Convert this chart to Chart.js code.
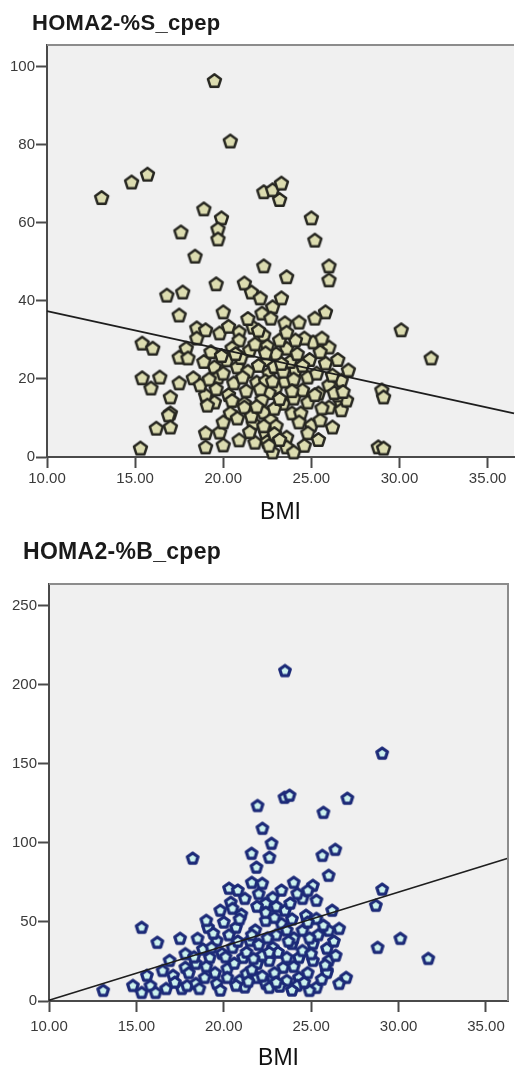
<!DOCTYPE html>
<html><head><meta charset="utf-8">
<script src="https://cdn.jsdelivr.net/npm/chart.js@4.4.1/dist/chart.umd.min.js"></script>
<style>
html,body{margin:0;padding:0;background:#fff;width:516px;height:1072px;overflow:hidden;position:relative}
.ttl{position:absolute;z-index:2;font-family:'Liberation Sans',Arial,sans-serif;font-weight:bold;color:#1a1a1a;line-height:1;white-space:nowrap}
.wrap{position:absolute;left:0}
</style></head><body>
<div class="ttl" style="left:32px;top:12px;font-size:22px;letter-spacing:0.3px">HOMA2-%S_cpep</div>
<div class="wrap" style="top:0;width:522px;height:530px"><canvas id="c1" width="522" height="530"></canvas></div>
<div class="ttl" style="left:23px;top:540px;font-size:23px;letter-spacing:0.3px">HOMA2-%B_cpep</div>
<div class="wrap" style="top:520px;width:516px;height:552px"><canvas id="c2" width="516" height="552"></canvas></div>
<script>
// ---------- data ----------
const xTitle = 'BMI';
const xTicks = [10, 15, 20, 25, 30, 35];
const xTickLabels = ['10.00', '15.00', '20.00', '25.00', '30.00', '35.00'];
const yTicksS = [0, 20, 40, 60, 80, 100];
const yTicksB = [0, 50, 100, 150, 200, 250];

const bmiS = [19.5,20.4,13.1,14.8,15.7,22.3,22.8,23.3,23.2,18.9,19.9,19.7,19.7,17.6,18.4,25.0,25.2,22.3,26.0,26.0,
  23.6,19.6,16.8,17.7,21.2,21.6,22.1,23.3,22.8,17.5,20.0,25.8,25.2,22.2,22.7,23.5,24.3,21.7,20.9,22.3,
  19.8,18.5,19.0,18.5,15.4,16.0,17.9,17.5,18.0,23.6,25.1,26.0,25.8,21.5,20.9,15.4,16.4,15.9,17.5,18.3,
  17.0,17.0,19.5,20.2,20.8,19.7,20.6,19.1,19.5,21.2,21.9,22.6,23.0,24.1,24.8,24.5,26.0,26.7,27.1,23.4,
  24.8,26.0,26.7,23.9,15.3,16.9,16.2,17.0,19.0,19.1,19.0,19.8,19.0,20.0,20.4,20.8,21.2,20.9,21.8,21.7,
  22.3,22.7,22.4,22.8,23.6,23.6,24.0,24.0,24.4,25.0,24.8,25.5,26.2,25.6,26.7,27.0,26.5,25.4,29.0,29.1,
  28.8,29.1,30.1,31.8,22.5,22.9,23.0,22.4,22.6,22.2,22.9,23.2,21.4,21.0,20.5,23.8,24.2,23.5,24.0,21.3,
  20.3,25.3,26.3,24.6,23.2,21.8,19.3,22.5,24.9,23.4,22.0,20.0,21.6,23.0,22.5,20.5,25.5,18.7,26.5,24.3,
  22.6,22.9,23.2,22.3,21.9,22.1,22.8,23.3,21.1,20.7,19.9,24.5,25.2,26.2,25.6,24.1,23.6,22.0,20.3,21.4,
  19.2,18.9,20.0,24.6,25.4,21.5,19.6,26.8,23.9,22.4];
const homaS = [96.5,81,66.5,70.5,72.5,68,68.5,70.2,66,63.6,61.3,58.5,55.9,57.7,51.5,61.3,55.6,49,49,45.4,
  46.2,44.4,41.5,42.3,44.6,42.3,40.8,40.8,38.5,36.4,37.2,37.2,35.6,36.9,35.6,34.4,34.6,33.3,32.1,31.3,
  31.8,33.1,32.6,30.5,29.2,27.9,27.9,25.6,25.4,27.9,29.5,28.2,24.1,27.4,30,20.3,20.5,17.7,19.0,20.3,
  15.4,11.3,23.1,24.9,23.1,20.5,19.0,14.6,14.1,13.8,19.2,21.5,17.9,22.3,20.5,17.2,18.5,19.7,22.3,13.8,
  14.1,12.8,13.8,11.3,2.3,10.8,7.4,7.7,15.9,13.3,6.2,6.4,2.6,3.1,11.3,10,12.8,4.4,3.8,8.7,
  11.5,9.5,6.2,1.3,5.1,2.6,1.3,15.1,11.3,8.2,6.2,9.5,7.7,12.6,12.1,14.6,15.9,16.4,17.2,15.4,
  2.6,2.3,32.6,25.4,25,23.2,26.5,19.5,16.5,14.8,12.5,15,22,25.5,28,24.5,26.5,19.5,20,17,
  16,21.5,16.5,30.5,30,29,27,28.5,25,22,23.5,21.5,10.5,8.0,4.0,14.5,27,18.5,25,9.0,
  3,6,4.5,8,13,17.5,19.5,24,20.5,26.5,26,23.5,16,21,30.5,30,32,32.5,33.5,35.5,
  20,24.5,9,3,4.5,6.5,17.5,16.8,17,26.7];

const bmiB = [23.5,29.06,21.93,23.47,23.76,27.07,25.70,22.21,22.73,21.59,22.61,25.64,26.38,18.22,21.87,29.06,28.7,30.1,28.8,31.7,
  26.0,20.3,20.8,21.6,22.2,23.3,24.0,25.1,22.8,24.5,25.3,20.4,20.5,19.8,22.4,23.5,26.2,15.3,16.2,17.5,
  18.5,19.1,19.0,20.7,22.4,23.3,24.5,26.0,26.6,21.5,19.6,22.8,23.9,25.1,25.9,16.9,17.8,18.4,19.2,20.2,
  21.1,21.9,22.6,23.4,24.3,25.1,26.0,25.9,27.0,26.6,25.3,24.9,13.1,14.8,15.3,15.8,16.1,16.7,17.6,17.9,
  18.4,17.1,16.5,15.6,19.6,20.2,20.9,21.9,22.4,22.8,23.6,24.3,22.6,21.3,19.9,23.6,24.7,25.3,24.2,22.4,
  25.9,21.0,21.2,23.0,23.8,24.8,20.0,21.8,23.0,24.0,20.5,21.3,22.2,23.1,24.5,18.8,17.8,19.5,20.6,21.6,
  22.9,24.0,24.8,25.6,23.2,21.2,18.9,24.2,22.0,25.4,26.3,22.9,20.3,18.0,19.0,
  19.3,20.8,21.6,22.5,23.6,24.8,25.7,20.9,21.9,22.0,23.9,19.4,18.3,17.2,18.6,19.8,20.7,21.4,22.2,23.0,
  23.9,24.6,25.8,25.0,26.4,20.1,21.7,22.6,23.7,24.9];
const homaB = [209,156.8,123.7,128.9,130.2,128.3,119.4,109.3,99.8,93.5,91.0,92.2,96.0,90.4,84.7,70.8,60.6,39.7,34.0,27.0,
  79.6,71.4,70.2,75.1,74.5,70.2,75.1,73.2,65.6,65.0,63.8,62.5,58.7,57.5,61.9,57.5,57.5,46.7,37.2,39.7,
  39.7,46.7,51.1,46.7,51.1,49.2,44.8,44.8,46.0,38.4,38.4,34.0,36.5,36.5,33.4,25.8,21.4,23.9,27.7,20.7,
  27.7,23.9,25.8,21.4,27.7,25.8,25.8,19.4,15.0,11.2,8.7,6.8,6.8,9.9,5.5,9.9,5.5,8.0,8.0,9.9,
  11.2,16.3,19.4,16.3,11.2,15.0,13.1,15.0,11.2,14.4,13.1,15.0,8.7,17.5,30.2,27.7,54.3,52.3,68.1,56.2,
  18.2,55,65,60,62,70,50,45,42,40,34,31,29,31,32,33,30,18,24,20,
  18,22,18,14,9.5,9,15,10,36,42,38,53,42,18,22,
  34,38,42,40,45,50,48,52,60,68,52,43,28,12,8,7,10,12.5,16,12,
  7,12,23,30,29,28,27,31,38,40];

// regression lines
const fitS_x = [10, 36.5];
const fitS_y = [37.4, 11.2];
const fitB_x = [10, 36.26];
const fitB_y = [0.5, 90.3];

// ---------- helpers ----------
function pentagon(r, fill, stroke, lw) {
  const s = Math.ceil(2 * (r + lw)) + 2;
  const c = document.createElement('canvas');
  c.width = s; c.height = s;
  const g = c.getContext('2d');
  g.translate(s / 2, s / 2 + r * 0.095);
  g.beginPath();
  for (let k = 0; k < 5; k++) {
    const a = -Math.PI / 2 + k * 2 * Math.PI / 5;
    const px = r * Math.cos(a), py = r * Math.sin(a);
    if (k === 0) g.moveTo(px, py); else g.lineTo(px, py);
  }
  g.closePath();
  g.fillStyle = fill; g.fill();
  g.lineWidth = lw; g.lineJoin = 'round'; g.strokeStyle = stroke; g.stroke();
  return c;
}
const zip = (xs, ys) => xs.map((x, i) => ({x, y: ys[i]}));

function boxPlugin(drawRight) {
  return {
    id: 'box',
    beforeDraw(chart) {
      const {ctx, chartArea: a} = chart;
      ctx.save();
      ctx.fillStyle = '#f0f0f0';
      ctx.fillRect(a.left, a.top, a.right - a.left, a.bottom - a.top);
      ctx.restore();
    },
    afterDraw(chart) {
      const {ctx, chartArea: a} = chart;
      ctx.save();
      ctx.strokeStyle = '#8c8c8c';
      ctx.lineWidth = 2;
      ctx.beginPath();
      ctx.moveTo(a.left, a.top);
      ctx.lineTo(a.right, a.top);
      if (drawRight) ctx.lineTo(a.right, a.bottom);
      ctx.stroke();
      ctx.restore();
    }
  };
}

const tickFont = {family: "'Liberation Sans', Arial, sans-serif", size: 15};
const axisCol = '#4a4a4a';

function makeChart(id, cfg) {
  return new Chart(document.getElementById(id), {
    data: {
      datasets: [
        {type: 'line', data: zip(cfg.fitX, cfg.fitY), borderColor: '#1e1e1e', borderWidth: 1.7,
         pointRadius: 0, fill: false, order: 0, clip: false},
        {type: 'scatter', data: zip(cfg.xs, cfg.ys), pointStyle: cfg.marker, pointRadius: 7,
         order: 1, clip: false}
      ]
    },
    options: {
      responsive: false, animation: false, devicePixelRatio: 1,
      layout: {padding: cfg.padding},
      plugins: {legend: {display: false}, tooltip: {enabled: false}, title: {display: false}},
      scales: {
        x: {
          type: 'linear', min: 10, max: cfg.xMax,
          afterFit: s => { s.height = cfg.xHeight; },
          afterBuildTicks: s => { s.ticks = xTicks.map(v => ({value: v})); },
          ticks: {font: tickFont, color: '#3a3a3a', padding: cfg.xPad, maxRotation: 0, autoSkip: false,
                  callback: (v) => xTickLabels[xTicks.indexOf(v)]},
          grid: {display: true, drawOnChartArea: false, drawTicks: true, tickLength: 11, tickWidth: 2, tickColor: axisCol},
          border: {display: true, color: axisCol, width: 2},
          title: {display: true, text: xTitle, color: '#111',
                  font: {family: "'Liberation Sans', Arial, sans-serif", size: 23},
                  padding: {top: 0, bottom: cfg.titlePad}}
        },
        y: {
          type: 'linear', min: 0, max: cfg.yMax,
          afterFit: s => { s.width = cfg.yWidth; },
          afterBuildTicks: s => { s.ticks = cfg.yTicks.map(v => ({value: v})); },
          ticks: {font: tickFont, color: '#3a3a3a', padding: 1, autoSkip: false},
          grid: {display: true, drawOnChartArea: false, drawTicks: true, tickLength: 11, tickWidth: 2, tickColor: axisCol},
          border: {display: true, color: axisCol, width: 2}
        }
      }
    },
    plugins: [boxPlugin(cfg.drawRight)]
  });
}

makeChart('c1', {
  xs: bmiS, ys: homaS, fitX: fitS_x, fitY: fitS_y,
  marker: pentagon(6.8, '#dcdcb0', '#262620', 2.5),
  padding: {top: 45, left: 0, right: 0, bottom: 0},
  xMax: 36.5, yMax: 105.6, yTicks: yTicksS, xHeight: 73, yWidth: 47, xPad: 2, titlePad: 4, drawRight: false
});
makeChart('c2', {
  xs: bmiB, ys: homaB, fitX: fitB_x, fitY: fitB_y,
  marker: pentagon(5.6, '#ccf2ee', '#1c2a78', 3.2),
  padding: {top: 64, left: 0, right: 7, bottom: 0},
  xMax: 36.26, yMax: 263.7, yTicks: yTicksB, xHeight: 71, yWidth: 49, xPad: 6, titlePad: 0, drawRight: true
});
</script>
</body></html>
